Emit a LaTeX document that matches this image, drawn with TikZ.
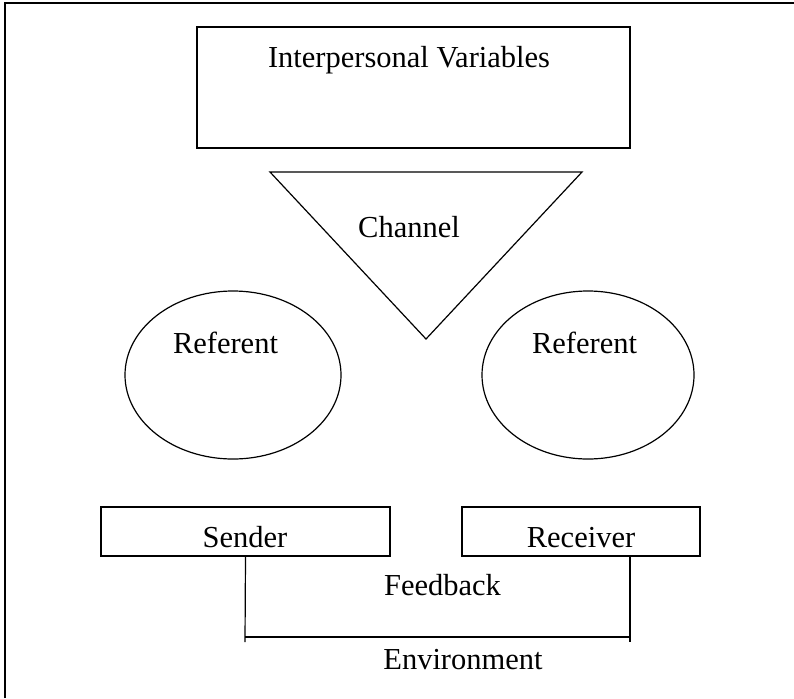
\documentclass[tikz,border=0pt]{standalone}
\usepackage{fontspec}
\setmainfont{Liberation Serif}
\usetikzlibrary{shapes.geometric}
\begin{document}
\begin{tikzpicture}[x=1pt,y=-1pt,
  lbl/.style={font=\fontsize{30.5}{36}\selectfont, anchor=base, inner sep=0pt},
  boxshape/.style={draw, rectangle, line width=1.4pt, inner sep=0pt},
  oval/.style={draw, ellipse, line width=1.2pt, inner sep=0pt},
  thin/.style={line width=1.2pt},
  frameline/.style={line width=1.8pt}]
\useasboundingbox (0,0) rectangle (794,698);
% frame (only top and left edges fall inside the picture)
\coordinate (fbl) at (5,698);
\coordinate (ftl) at (5,3);
\coordinate (ftr) at (794,3);
\draw[frameline] (fbl) -- (ftl) -- (ftr);
% interpersonal variables
\node[boxshape, line width=1.6pt, minimum width=433pt, minimum height=121pt] (ipv) at (413.5,87.5) {};
\node[lbl] (ipvtext) at (409,68) {Interpersonal Variables};
% channel triangle
\coordinate (chl) at (270,172);
\coordinate (chr) at (582,172);
\coordinate (chb) at (426,339);
\draw[thin, line join=miter] (chl) -- (chr) -- (chb) -- cycle;
\node[lbl] (chtext) at (409,237) {Channel};
% referents
\node[oval, minimum width=216pt, minimum height=168pt] (refL) at (233,375) {};
\node[oval, minimum width=212pt, minimum height=168pt] (refR) at (588,375) {};
\node[lbl] (refLtext) at (225.5,353) {Referent};
\node[lbl] (refRtext) at (584.5,353) {Referent};
% sender / receiver
\node[boxshape, minimum width=289pt, minimum height=49pt] (sender) at (245.5,531.5) {};
\node[boxshape, minimum width=238pt, minimum height=49pt] (receiver) at (581,531.5) {};
\node[lbl] (sendertext) at (245,547) {Sender};
\node[lbl] (receivertext) at (581,547) {Receiver};
% feedback bracket
\coordinate (rdrop) at (630,556);
\coordinate (lbot) at (245,642);
\coordinate (rbot) at (630,642);
\coordinate (lmid) at (245,637);
\coordinate (rmid) at (630,637);
\draw[thin] (sender.south) -- (lbot);
\draw[thin] (rdrop) -- (rbot);
\draw[thin] (lmid) -- (rmid);
\node[lbl] (fbtext) at (442.5,595) {Feedback};
\node[lbl] (envtext) at (463,669) {Environment};
\end{tikzpicture}
\end{document}
